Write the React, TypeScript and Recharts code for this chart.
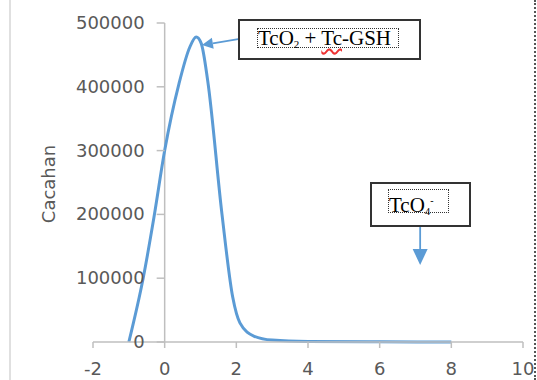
import React from "react";
import { LineChart, Line, XAxis, YAxis, ReferenceLine } from "recharts";

// retention profile
const positions = [-1, -0.6, -0.3, 0, 0.4, 0.7, 0.88, 1.02, 1.2, 1.6, 1.9, 2.1, 2.5, 3, 4, 6, 8];
const counts = [0, 100000, 195000, 300000, 405000, 462000, 478000, 468000, 410000, 200000, 70000, 30000, 9000, 3000, 800, 200, 0];

const xTicks = [-2, 0, 2, 4, 6, 8, 10];
const yTicks = [0, 100000, 200000, 300000, 400000, 500000];

const W = 537;
const H = 380;
const yAxisWidth = 10;
const margin = { top: 23, right: 14, bottom: 0, left: 93 - yAxisWidth };
const xAxisHeight = 38;
const xMin = -2;
const xMax = 10;
const plotLeft = margin.left + yAxisWidth;
const plotW = W - plotLeft - margin.right;
const axisX = plotLeft + ((0 - xMin) / (xMax - xMin)) * plotW;

const data = positions.map((p, i) => ({ x: p, y: counts[i] }));

const font = "DejaVu Sans, sans-serif";
const textColor = "#595959";
const axisColor = "#BFBFBF";
const blue = "#5B9BD5";

const renderYTick = (props: any) => {
  const { y, payload } = props;
  return (
    <g key={`yt-${payload.value}`}>
      <line x1={axisX - 8} x2={axisX} y1={y} y2={y} stroke={axisColor} strokeWidth={1.5} />
      <text x={axisX - 20} y={y} dy={6} textAnchor="end" fill={textColor} fontSize={18} fontFamily={font}>
        {payload.value}
      </text>
    </g>
  );
};

const arrowShape = (head: number, width: number) => (props: any) => {
  const { x1, y1, x2, y2 } = props;
  const ang = Math.atan2(y2 - y1, x2 - x1);
  const bx = x2 - head * Math.cos(ang);
  const by = y2 - head * Math.sin(ang);
  const px = (width / 2) * Math.sin(ang);
  const py = (width / 2) * -Math.cos(ang);
  return (
    <g>
      <line x1={x1} y1={y1} x2={bx} y2={by} stroke={blue} strokeWidth={1.8} />
      <polygon points={`${x2},${y2} ${bx + px},${by + py} ${bx - px},${by - py}`} fill={blue} />
    </g>
  );
};

const serif = "Liberation Serif, Times New Roman, serif";

export default function App() {
  return (
    <div style={{ position: "absolute", left: 0, top: 0, width: W, height: H, background: "#fff" }}>
      <div style={{ position: "absolute", left: 9, top: 0, width: 2, height: H, background: "#E0E0E0" }} />
      <div style={{ position: "absolute", left: 534, top: 0, width: 0, height: H, borderLeft: "2px dotted #555" }} />
      <LineChart width={W} height={H} data={data} margin={margin} style={{ overflow: "visible" }}>
        <XAxis
          dataKey="x"
          type="number"
          domain={[xMin, xMax]}
          ticks={xTicks}
          height={xAxisHeight}
          stroke={axisColor}
          strokeWidth={1.5}
          tickSize={6}
          tickMargin={14}
          tick={{ fill: textColor, fontSize: 18, fontFamily: font }}
          interval={0}
        />
        <YAxis
          type="number"
          domain={[0, 500000]}
          ticks={yTicks}
          width={yAxisWidth}
          axisLine={false}
          tickLine={false}
          tick={renderYTick}
          interval={0}
        />
        <ReferenceLine x={0} stroke={axisColor} strokeWidth={1.5} />
        <Line
          type="monotone"
          dataKey="y"
          stroke={blue}
          strokeWidth={3}
          dot={false}
          isAnimationActive={false}
        />
        <ReferenceLine
          segment={[{ x: 2.05, y: 474800 }, { x: 1.04, y: 465400 }]}
          shape={arrowShape(11, 11)}
        />
        <ReferenceLine
          segment={[{ x: 7.13, y: 180200 }, { x: 7.13, y: 120700 }]}
          shape={arrowShape(16, 15)}
        />
      </LineChart>
      <div
        style={{
          position: "absolute",
          left: 48,
          top: 184,
          transform: "translate(-50%, -50%) rotate(-90deg)",
          color: textColor,
          fontFamily: font,
          fontSize: 18,
          whiteSpace: "nowrap",
        }}
      >
        Cacahan
      </div>
      <div
        style={{
          position: "absolute",
          left: 238,
          top: 19,
          width: 179,
          height: 37,
          border: "2px solid #333",
          background: "#fff",
        }}
      />
      <div
        style={{
          position: "absolute",
          left: 257,
          top: 28,
          width: 140,
          height: 18,
          border: "1.5px dotted #333",
          fontFamily: serif,
          fontSize: 21,
          lineHeight: "18px",
          color: "#000",
          whiteSpace: "nowrap",
        }}
      >
        TcO<sub style={{ fontSize: 11, verticalAlign: "-3px" }}>2</sub> +{" "}
        <span style={{ textDecoration: "underline wavy #e33", textUnderlineOffset: 3 }}>Tc</span>-GSH
      </div>
      <div
        style={{
          position: "absolute",
          left: 370,
          top: 182,
          width: 97,
          height: 41,
          border: "2px solid #333",
          background: "#fff",
        }}
      />
      <div
        style={{
          position: "absolute",
          left: 388,
          top: 189,
          width: 59,
          height: 22,
          border: "1.5px dotted #333",
          fontFamily: serif,
          fontSize: 21,
          lineHeight: "22px",
          color: "#000",
          whiteSpace: "nowrap",
        }}
      >
        TcO<sub style={{ fontSize: 11, verticalAlign: "-3px" }}>4</sub>
        <sup style={{ fontSize: 10, verticalAlign: "8px" }}>-</sup>
      </div>
    </div>
  );
}
